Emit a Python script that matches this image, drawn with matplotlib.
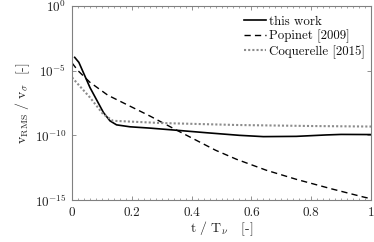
import numpy as np
import matplotlib
matplotlib.use("Agg")
import matplotlib.pyplot as plt
from matplotlib.ticker import MultipleLocator, FixedLocator, NullLocator

plt.rcParams['font.family'] = ['cmr10', 'DejaVu Serif']
plt.rcParams['mathtext.fontset'] = 'cm'
plt.rcParams['axes.unicode_minus'] = False

# this work (solid)
t_this = [0.009, 0.023, 0.06, 0.105, 0.127, 0.149, 0.194, 0.26, 0.33, 0.45, 0.56, 0.64, 0.75, 0.85, 0.9, 1.0]
log_this = [-3.97, -4.36, -6.3, -8.23, -8.88, -9.19, -9.34, -9.44, -9.57, -9.8, -10.0, -10.1, -10.08, -9.97, -9.93, -9.94]

# Popinet [2009] (dashed)
t_pop = [0.0, 0.02, 0.06, 0.12, 0.19, 0.26, 0.35, 0.48, 0.55, 0.65, 0.75, 0.87, 0.975, 1.0]
log_pop = [-4.4, -5.0, -5.9, -6.9, -7.7, -8.5, -9.6, -11.15, -11.85, -12.7, -13.4, -14.15, -14.77, -14.9]

# Coquerelle [2015] (dotted)
t_coq = [0.0, 0.03, 0.06, 0.104, 0.137, 0.16, 0.3, 0.55, 0.8, 1.0]
log_coq = [-5.52, -6.3, -7.07, -8.36, -8.88, -8.9, -9.05, -9.2, -9.28, -9.32]

y_ticks = [1e0, 1e-5, 1e-10, 1e-15]
y_ticklabels = [r'$10^{0}$', r'$10^{-5}$', r'$10^{-10}$', r'$10^{-15}$']
x_ticks = [0, 0.2, 0.4, 0.6, 0.8, 1.0]
x_ticklabels = ['0', '0.2', '0.4', '0.6', '0.8', '1']

fig = plt.figure(figsize=(3.74, 2.42), dpi=100)
ax = fig.add_axes([72/374, 1-200/242, (371-72)/374, (200-6)/242])

ax.semilogy(t_this, 10.0**np.array(log_this), color='black', lw=1.2, ls='-', label='this work')
ax.semilogy(t_pop, 10.0**np.array(log_pop), color='black', lw=1.0, ls=(0, (4.5, 3)), label='Popinet [2009]')
ax.semilogy(t_coq, 10.0**np.array(log_coq), color='#8c8c8c', lw=1.5, ls=(0, (1, 1)), label='Coquerelle [2015]')

ax.set_xlim(0, 1)
ax.set_ylim(1e-15, 1e0)
ax.yaxis.set_major_locator(FixedLocator(y_ticks))
ax.yaxis.set_minor_locator(NullLocator())
ax.set_yticklabels(y_ticklabels)
ax.set_xticks(x_ticks)
ax.set_xticklabels(x_ticklabels)
ax.xaxis.set_minor_locator(MultipleLocator(0.02))

grey = '#808080'
for s in ax.spines.values():
    s.set_color(grey)
    s.set_linewidth(0.8)
ax.tick_params(which='both', direction='in', top=True, right=True, color=grey, labelsize=9.5, labelcolor='#222222')
ax.tick_params(which='major', length=3, width=0.6)
ax.tick_params(which='minor', length=1.5, width=0.5)
ax.tick_params(axis='x', pad=5)
ax.tick_params(axis='y', pad=4)

ax.set_xlabel(r'$\mathrm{t\ /\ T_{\nu}}$   [-]', fontsize=10, labelpad=0, color='#222222')
ax.set_ylabel(r'$\mathrm{v_{RMS}\ /\ v_{\sigma}}$  [-]', fontsize=10, labelpad=2, color='#222222')

leg = ax.legend(loc='upper right', bbox_to_anchor=(1.0, 0.98), frameon=False, fontsize=9.3,
                handlelength=1.7, handletextpad=0.25, labelspacing=0.15, borderaxespad=0.1, borderpad=0.35)
for txt in leg.get_texts():
    txt.set_color('#111111')

fig.savefig('out.png', dpi=100)
